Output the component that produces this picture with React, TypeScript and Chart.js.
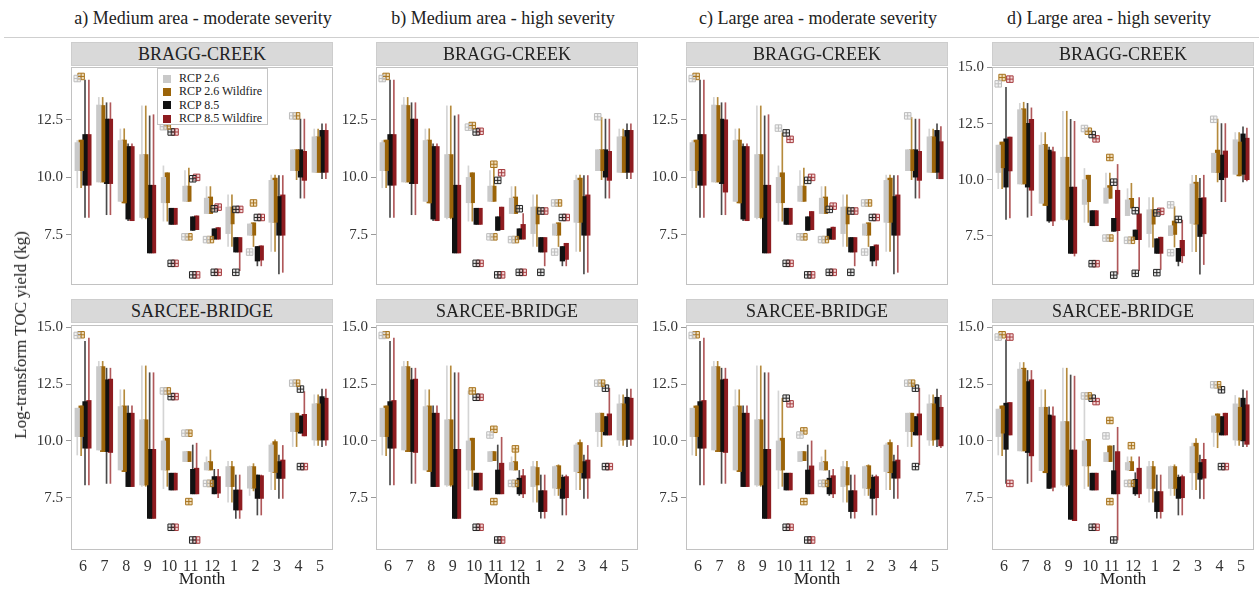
import React, { useEffect, useRef } from "react";
import { Chart, registerables } from "chart.js";

Chart.register(...registerables);

// ---- Categories, labels ----
const MONTHS = ["6", "7", "8", "9", "10", "11", "12", "1", "2", "3", "4", "5"];
const SERIES = ["RCP 2.6", "RCP 2.6 Wildfire", "RCP 8.5", "RCP 8.5 Wildfire"];
const Y_TICKS = [7.5, 10, 12.5, 15];
const COLUMN_TITLES = [
  "a) Medium area - moderate severity",
  "b) Medium area - high severity",
  "c) Large area - moderate severity",
  "d) Large area - high severity",
];
const STATIONS = ["BRAGG-CREEK", "SARCEE-BRIDGE"];

type Box = [number, number, number, number]; // lower whisker, Q1, Q3, upper whisker
type Outlier = [number, number]; // month index, value

// ---- BRAGG-CREEK boxes ----
const BRAGG_ABC_RCP26: Box[] = [
  [9.55, 10.29, 11.51, 11.6], [9.8, 9.8, 13.14, 13.47], [8.96, 8.96, 11.6, 12.1], [8.2, 8.26, 10.99, 13.1],
  [8.1, 8.9, 10.0, 10.5], [8.96, 8.96, 9.62, 10.3], [8.43, 8.43, 9.1, 9.6], [7.0, 7.56, 8.71, 9.24],
  [7.49, 7.49, 7.98, 7.98], [6.79, 8.05, 9.87, 10.1], [10.29, 10.29, 11.2, 11.2], [10.22, 10.22, 11.76, 12.1],
];
const BRAGG_A_RCP26W: Box[] = [
  [9.55, 10.29, 11.62, 11.62], [9.8, 9.8, 13.12, 13.47], [8.89, 8.89, 11.62, 12.11], [8.2, 8.26, 10.99, 13.1],
  [8.1, 8.9, 10.2, 10.2], [8.96, 8.96, 9.62, 10.4], [8.43, 8.43, 9.15, 9.6], [7.0, 7.98, 8.71, 9.24],
  [7.0, 7.49, 8.03, 8.03], [6.79, 8.05, 9.97, 10.1], [9.9, 10.29, 11.2, 11.2], [10.22, 10.22, 11.76, 12.1],
];
const BRAGG_B_RCP26W: Box[] = [
  [9.55, 10.29, 11.62, 11.62], [9.8, 9.8, 13.12, 13.47], [8.89, 8.89, 11.62, 12.11], [8.2, 8.26, 10.99, 13.1],
  [8.1, 8.9, 10.2, 10.2], [8.96, 8.96, 9.62, 10.4], [8.43, 8.43, 9.15, 9.6], [7.0, 7.98, 8.71, 9.24],
  [7.0, 7.49, 8.03, 8.03], [6.79, 8.05, 9.97, 10.1], [9.9, 10.29, 11.2, 12.6], [10.22, 10.22, 11.76, 12.1],
];
const BRAGG_C_RCP26W: Box[] = [
  [9.55, 10.29, 11.62, 11.62], [9.8, 9.8, 13.12, 13.47], [8.89, 8.89, 11.62, 12.11], [8.2, 8.26, 10.99, 13.1],
  [8.1, 8.9, 10.2, 11.93], [8.96, 8.96, 9.62, 10.4], [8.43, 8.43, 9.15, 9.6], [7.0, 7.98, 8.71, 9.24],
  [7.0, 7.49, 8.03, 8.03], [6.79, 8.05, 9.97, 10.1], [9.9, 10.29, 11.2, 12.6], [10.22, 10.22, 11.76, 12.1],
];
const BRAGG_ABC_RCP85: Box[] = [
  [8.26, 9.66, 11.86, 14.22], [8.38, 9.73, 12.53, 13.24], [8.12, 8.19, 11.34, 11.46], [6.72, 6.72, 9.66, 12.67],
  [7.96, 7.96, 8.66, 8.66], [7.7, 7.7, 8.29, 8.29], [7.32, 7.32, 7.77, 7.77], [6.76, 6.76, 7.39, 7.39],
  [6.16, 6.37, 7.0, 7.0], [5.81, 7.49, 9.17, 10.08], [9.1, 10.01, 11.2, 12.53], [9.94, 10.22, 12.04, 12.32],
];
const BRAGG_A_RCP85W: Box[] = [
  [8.26, 9.66, 11.86, 14.22], [8.38, 9.73, 12.53, 13.24], [8.12, 8.12, 11.34, 11.46], [6.72, 6.72, 9.66, 12.72],
  [7.96, 7.96, 8.66, 8.66], [7.73, 7.73, 8.33, 8.33], [7.32, 7.32, 7.82, 7.82], [5.95, 6.76, 7.39, 7.39],
  [6.16, 6.41, 7.03, 7.03], [5.88, 7.49, 9.24, 10.08], [9.1, 9.87, 11.13, 12.53], [9.94, 10.22, 12.04, 12.32],
];
const BRAGG_B_RCP85W: Box[] = [
  [8.26, 9.66, 11.86, 14.22], [8.38, 9.73, 12.53, 13.24], [8.12, 8.12, 11.34, 11.46], [6.72, 6.72, 9.66, 12.72],
  [7.96, 7.96, 8.66, 8.66], [7.73, 7.73, 8.71, 8.71], [7.32, 7.32, 7.96, 8.43], [6.16, 6.76, 7.39, 7.39],
  [6.16, 6.44, 7.14, 7.14], [5.88, 7.49, 9.24, 10.08], [9.1, 9.87, 11.13, 12.53], [9.94, 10.22, 12.04, 12.32],
];
const BRAGG_C_RCP85W: Box[] = [
  [8.26, 9.66, 11.86, 14.22], [8.38, 9.36, 12.5, 13.24], [8.12, 8.12, 11.34, 11.46], [6.72, 6.72, 9.66, 12.72],
  [7.96, 7.96, 8.66, 8.66], [7.73, 7.73, 8.52, 8.52], [7.31, 7.31, 7.84, 7.84], [6.16, 6.76, 7.39, 7.39],
  [6.16, 6.41, 7.07, 7.07], [5.88, 7.49, 9.24, 10.08], [9.1, 9.87, 11.13, 12.53], [9.94, 9.94, 11.55, 12.2],
];
const BRAGG_D_RCP26: Box[] = [
  [9.6, 10.32, 11.54, 11.54], [9.81, 9.81, 13.12, 13.4], [8.95, 8.95, 11.54, 12.1], [8.2, 8.23, 11.0, 13.05],
  [8.1, 8.9, 10.0, 10.5], [8.95, 8.95, 9.63, 10.3], [8.4, 8.4, 9.1, 9.6], [7.0, 7.6, 8.66, 9.2],
  [7.51, 7.51, 7.95, 7.95], [6.8, 8.05, 9.81, 10.2], [10.32, 10.32, 11.18, 11.18], [10.24, 10.24, 11.78, 12.1],
];
const BRAGG_D_RCP26W: Box[] = [
  [9.6, 10.53, 11.68, 11.68], [9.81, 9.81, 13.16, 13.45], [8.85, 8.85, 11.57, 12.1], [8.2, 8.23, 11.0, 13.05],
  [8.1, 9.02, 10.2, 10.2], [9.17, 9.17, 9.74, 10.3], [8.74, 8.74, 9.17, 9.84], [7.0, 8.02, 8.66, 9.2],
  [7.0, 7.56, 8.16, 8.8], [6.8, 8.02, 9.89, 10.2], [9.9, 10.32, 11.32, 12.7], [10.17, 10.17, 11.68, 12.1],
];
const BRAGG_D_RCP85: Box[] = [
  [8.23, 9.67, 11.82, 14.12], [8.33, 9.67, 12.51, 13.4], [8.1, 8.16, 11.32, 11.45], [6.72, 6.72, 9.67, 12.69],
  [7.95, 7.95, 8.62, 8.62], [7.7, 7.7, 8.28, 8.28], [7.33, 7.33, 7.76, 7.76], [6.72, 6.72, 7.37, 7.37],
  [6.16, 6.36, 6.94, 6.94], [5.79, 7.47, 9.17, 10.06], [9.02, 10.0, 11.1, 12.5], [9.9, 10.24, 12.04, 12.35],
];
const BRAGG_D_RCP85W: Box[] = [
  [8.3, 10.39, 11.9, 11.9], [8.4, 9.53, 12.69, 13.2], [7.95, 8.16, 11.25, 11.45], [6.6, 6.72, 9.67, 12.6],
  [7.95, 7.95, 8.62, 8.62], [5.79, 7.73, 9.53, 10.68], [5.95, 7.33, 8.48, 9.2], [6.0, 6.72, 7.44, 7.44],
  [6.3, 6.61, 7.3, 8.2], [6.22, 7.59, 9.2, 10.2], [9.02, 10.1, 11.28, 12.5], [9.95, 10.0, 11.85, 12.3],
];

// ---- BRAGG-CREEK outliers ----
const BRAGG_A_OUT: Outlier[][] = [
  [[0, 14.29], [4, 12.2], [5, 7.42], [6, 7.3], [8, 6.76], [10, 12.67]],
  [[0, 14.38], [4, 12.23], [5, 7.42], [6, 7.3], [8, 8.89], [10, 12.67]],
  [[4, 11.97], [4, 6.27], [5, 9.94], [5, 5.77], [6, 8.64], [6, 5.88], [7, 8.61], [7, 5.88], [8, 8.26]],
  [[4, 11.97], [4, 6.27], [5, 10.0], [5, 5.77], [6, 8.71], [6, 5.88], [7, 8.61], [8, 8.26]],
];
const BRAGG_B_OUT: Outlier[][] = [
  [[0, 14.29], [4, 12.18], [5, 7.42], [6, 7.3], [8, 6.76], [8, 8.89], [10, 12.63]],
  [[0, 14.38], [4, 12.25], [5, 10.57], [5, 7.42], [6, 7.3], [8, 8.89]],
  [[4, 11.97], [4, 6.27], [5, 9.87], [5, 5.77], [6, 8.64], [6, 5.88], [7, 8.54], [7, 5.88], [8, 8.26]],
  [[4, 12.0], [4, 6.27], [5, 10.2], [5, 5.77], [6, 5.88], [7, 8.54], [8, 8.26]],
];
const BRAGG_C_OUT: Outlier[][] = [
  [[0, 14.29], [4, 12.14], [5, 7.42], [6, 7.3], [8, 6.76], [8, 8.89], [10, 12.67]],
  [[0, 14.38], [5, 7.42], [6, 7.3], [8, 8.89]],
  [[4, 11.93], [4, 6.27], [5, 9.87], [5, 5.77], [6, 8.61], [6, 5.88], [7, 8.54], [7, 5.88], [8, 8.26]],
  [[4, 11.65], [4, 6.27], [5, 10.0], [5, 5.77], [6, 8.75], [6, 5.88], [7, 8.54], [8, 8.26]],
];
const BRAGG_D_OUT: Outlier[][] = [
  [[0, 14.27], [4, 12.28], [5, 7.4], [6, 7.3], [8, 8.88], [8, 6.75], [10, 12.69]],
  [[0, 14.55], [4, 12.16], [5, 10.99], [5, 7.4], [6, 7.3]],
  [[4, 12.01], [4, 6.26], [5, 9.89], [5, 5.75], [6, 8.62], [6, 5.83], [7, 8.52], [7, 5.86], [8, 8.23]],
  [[0, 14.48], [4, 11.82], [4, 6.26], [7, 8.59]],
];

// ---- SARCEE-BRIDGE boxes ----
const SARCEE_ABC_RCP26: Box[] = [
  [9.38, 10.19, 11.44, 11.44], [9.6, 9.6, 13.27, 13.5], [8.72, 8.72, 11.51, 12.25], [8.0, 8.06, 10.93, 13.3],
  [7.9, 8.72, 10.0, 12.2], [9.09, 9.09, 9.53, 9.53], [8.72, 8.72, 9.05, 9.3], [7.3, 7.99, 8.87, 9.1],
  [7.6, 7.92, 8.87, 8.9], [7.85, 8.65, 9.82, 9.9], [9.75, 10.41, 11.22, 11.22], [9.8, 10.04, 11.63, 12.03],
];
const SARCEE_A_RCP26W: Box[] = [
  [9.35, 10.19, 11.54, 11.54], [9.53, 9.53, 13.27, 13.5], [8.65, 8.65, 11.54, 12.25], [8.0, 8.06, 10.93, 13.3],
  [8.0, 8.72, 10.12, 10.12], [9.09, 9.09, 9.53, 9.53], [8.72, 8.72, 9.09, 9.6], [7.3, 7.99, 8.87, 9.1],
  [7.8, 7.92, 8.87, 9.0], [7.85, 8.61, 9.97, 10.05], [9.75, 10.41, 11.22, 11.22], [9.8, 10.04, 11.63, 12.03],
];
const SARCEE_B_RCP26W: Box[] = [
  [9.35, 10.19, 11.54, 11.54], [9.53, 9.53, 13.27, 13.5], [8.65, 8.65, 11.54, 12.25], [8.0, 8.06, 10.93, 13.3],
  [8.0, 8.72, 10.12, 10.12], [9.13, 9.13, 9.53, 9.53], [8.72, 8.72, 9.09, 9.6], [7.3, 8.06, 8.83, 9.1],
  [7.6, 7.91, 8.91, 8.95], [7.85, 8.6, 9.93, 10.05], [9.75, 10.41, 11.22, 11.22], [9.8, 10.04, 11.63, 12.03],
];
const SARCEE_C_RCP26W: Box[] = [
  [9.35, 10.19, 11.54, 11.54], [9.53, 9.53, 13.27, 13.5], [8.65, 8.65, 11.54, 12.25], [8.0, 8.06, 10.93, 13.3],
  [8.0, 8.72, 10.12, 11.88], [9.13, 9.13, 9.53, 9.53], [8.72, 8.72, 9.09, 9.6], [7.3, 8.06, 8.83, 9.1],
  [7.6, 7.91, 8.91, 8.95], [7.85, 8.6, 9.93, 10.05], [9.75, 10.41, 11.22, 11.22], [9.8, 10.04, 11.63, 12.03],
];
const SARCEE_A_RCP85: Box[] = [
  [8.06, 9.68, 11.73, 14.38], [8.13, 9.53, 12.69, 13.2], [7.99, 7.99, 11.22, 11.54], [6.59, 6.59, 9.63, 13.0],
  [7.84, 7.84, 8.58, 8.58], [7.67, 7.67, 8.75, 9.82], [7.67, 7.67, 8.43, 8.75], [6.59, 6.96, 7.84, 8.5],
  [6.74, 7.47, 8.5, 8.5], [7.47, 8.35, 9.09, 9.38], [10.34, 10.34, 11.1, 11.1], [9.75, 10.04, 11.95, 12.28],
];
const SARCEE_BC_RCP85: Box[] = [
  [8.06, 9.68, 11.73, 14.38], [8.13, 9.53, 12.69, 13.2], [7.99, 7.99, 11.22, 11.54], [6.59, 6.59, 9.63, 13.0],
  [7.84, 7.84, 8.58, 8.58], [7.67, 7.67, 8.72, 9.82], [7.6, 7.67, 8.36, 8.7], [6.6, 6.89, 7.81, 8.5],
  [6.74, 7.47, 8.4, 8.5], [7.47, 8.36, 9.09, 9.38], [10.26, 10.26, 11.07, 11.07], [9.75, 10.07, 11.92, 12.28],
];
const SARCEE_A_RCP85W: Box[] = [
  [8.06, 9.68, 11.78, 14.52], [8.13, 9.49, 12.72, 13.2], [7.99, 7.99, 11.22, 11.54], [6.59, 6.59, 9.63, 13.0],
  [7.84, 7.84, 8.58, 8.58], [7.67, 7.67, 8.8, 9.9], [7.5, 7.7, 8.43, 8.75], [6.59, 6.96, 7.84, 8.5],
  [6.74, 7.47, 8.47, 8.5], [7.47, 8.35, 9.16, 9.8], [10.22, 10.22, 11.17, 12.17], [9.8, 10.04, 11.88, 12.28],
];
const SARCEE_B_RCP85W: Box[] = [
  [8.06, 9.68, 11.78, 14.52], [8.13, 9.49, 12.72, 13.2], [7.99, 7.99, 11.22, 11.54], [6.59, 6.59, 9.63, 13.0],
  [7.84, 7.84, 8.58, 8.58], [7.67, 7.67, 9.02, 10.16], [7.5, 7.67, 8.47, 8.75], [6.6, 6.89, 7.81, 8.5],
  [6.74, 7.5, 8.43, 8.5], [7.47, 8.36, 9.16, 9.8], [10.26, 10.26, 11.19, 12.32], [9.8, 10.07, 11.88, 12.28],
];
const SARCEE_C_RCP85W: Box[] = [
  [8.06, 9.68, 11.78, 14.52], [8.13, 9.49, 12.72, 13.2], [7.99, 7.99, 11.22, 11.54], [6.59, 6.59, 9.63, 13.0],
  [7.84, 7.84, 8.58, 8.58], [7.67, 7.67, 8.9, 10.0], [7.5, 7.67, 8.47, 8.75], [6.6, 6.89, 7.81, 8.5],
  [6.74, 7.5, 8.43, 8.5], [7.47, 8.36, 9.16, 9.8], [8.95, 10.26, 11.19, 12.32], [9.7, 9.78, 11.48, 12.0],
];
const SARCEE_D_RCP26: Box[] = [
  [9.38, 10.19, 11.4, 11.4], [9.56, 9.56, 13.16, 13.45], [8.69, 8.69, 11.48, 12.25], [8.0, 8.06, 10.85, 13.2],
  [7.9, 8.9, 10.0, 11.98], [9.09, 9.09, 9.49, 9.49], [8.7, 8.72, 9.05, 9.3], [7.3, 7.91, 8.87, 9.1],
  [7.6, 7.91, 8.87, 8.9], [7.85, 8.6, 9.75, 9.9], [9.75, 10.38, 11.1, 11.1], [9.8, 10.04, 11.63, 12.0],
];
const SARCEE_D_RCP26W: Box[] = [
  [9.35, 10.34, 11.54, 11.54], [9.56, 9.56, 13.2, 13.45], [8.6, 8.6, 11.48, 12.25], [8.0, 8.06, 10.85, 13.2],
  [8.0, 8.9, 10.07, 10.07], [9.09, 9.09, 9.78, 9.78], [8.69, 8.69, 9.09, 9.3], [7.3, 7.91, 8.87, 9.1],
  [7.6, 7.91, 8.87, 8.95], [7.85, 8.6, 9.9, 10.1], [9.7, 10.38, 11.19, 11.19], [9.8, 10.04, 11.48, 11.9],
];
const SARCEE_D_RCP85: Box[] = [
  [8.13, 9.63, 11.66, 14.45], [8.13, 9.49, 12.61, 13.1], [7.91, 7.91, 11.14, 11.5], [6.55, 6.55, 9.6, 12.9],
  [7.84, 7.84, 8.58, 8.58], [7.67, 7.67, 8.69, 9.8], [7.6, 7.67, 8.31, 8.6], [6.6, 6.89, 7.77, 8.5],
  [6.74, 7.47, 8.4, 8.5], [7.47, 8.31, 9.05, 9.38], [10.26, 10.26, 11.07, 11.07], [9.75, 10.0, 11.88, 12.25],
];
const SARCEE_D_RCP85W: Box[] = [
  [10.26, 10.26, 11.69, 11.69], [8.2, 9.34, 12.69, 13.1], [7.8, 7.96, 11.1, 11.5], [6.49, 6.49, 9.6, 12.85],
  [7.84, 7.84, 8.58, 8.58], [5.64, 7.67, 9.53, 10.6], [7.5, 7.67, 8.8, 9.3], [6.6, 6.89, 7.77, 8.5],
  [6.74, 7.5, 8.43, 8.5], [7.45, 8.36, 9.19, 9.9], [10.26, 10.26, 11.22, 11.22], [9.75, 9.85, 11.59, 12.2],
];

// ---- SARCEE-BRIDGE outliers ----
const SARCEE_A_OUT: Outlier[][] = [
  [[0, 14.64], [4, 12.2], [5, 10.34], [6, 8.13], [10, 12.54]],
  [[0, 14.67], [4, 12.2], [5, 10.34], [5, 7.33], [6, 8.13], [10, 12.54]],
  [[4, 11.95], [4, 6.2], [5, 5.64], [10, 12.28], [10, 8.87]],
  [[4, 11.95], [4, 6.2], [5, 5.64], [10, 8.87]],
];
const SARCEE_B_OUT: Outlier[][] = [
  [[0, 14.64], [5, 10.26], [6, 8.13], [10, 12.54]],
  [[0, 14.67], [4, 12.2], [5, 10.51], [5, 7.33], [6, 9.65], [6, 8.13], [10, 12.54]],
  [[4, 11.92], [4, 6.2], [5, 5.64], [10, 12.32], [10, 8.87]],
  [[4, 11.92], [4, 6.2], [5, 5.64], [10, 8.87]],
];
const SARCEE_C_OUT: Outlier[][] = [
  [[0, 14.64], [5, 10.26], [6, 8.13], [10, 12.54]],
  [[0, 14.67], [5, 10.44], [5, 7.33], [6, 8.13], [10, 12.54]],
  [[4, 11.88], [4, 6.2], [5, 5.64], [10, 12.32], [10, 8.87]],
  [[4, 11.63], [4, 6.2], [5, 5.64]],
];
const SARCEE_D_OUT: Outlier[][] = [
  [[0, 14.57], [4, 11.98], [5, 10.22], [6, 8.13], [10, 12.47]],
  [[0, 14.67], [4, 11.98], [5, 10.9], [5, 7.33], [6, 9.79], [6, 8.13], [10, 12.47]],
  [[4, 11.88], [4, 6.2], [5, 5.64], [10, 12.25], [10, 8.87]],
  [[0, 14.57], [0, 8.13], [4, 11.73], [4, 6.2], [10, 8.87]],
];

// ---- Axis ranges per row ----
const TOP_RANGE: [number, number] = [5.33, 14.79];
const TOP_RANGE_D: [number, number] = [5.31, 15.02];
const BOTTOM_RANGE: [number, number] = [5.2, 15.1];

type PanelData = { boxes: Box[][]; outliers: Outlier[][]; range: [number, number] };

const PANELS: PanelData[][] = [
  [
    { boxes: [BRAGG_ABC_RCP26, BRAGG_A_RCP26W, BRAGG_ABC_RCP85, BRAGG_A_RCP85W], outliers: BRAGG_A_OUT, range: TOP_RANGE },
    { boxes: [BRAGG_ABC_RCP26, BRAGG_B_RCP26W, BRAGG_ABC_RCP85, BRAGG_B_RCP85W], outliers: BRAGG_B_OUT, range: TOP_RANGE },
    { boxes: [BRAGG_ABC_RCP26, BRAGG_C_RCP26W, BRAGG_ABC_RCP85, BRAGG_C_RCP85W], outliers: BRAGG_C_OUT, range: TOP_RANGE },
    { boxes: [BRAGG_D_RCP26, BRAGG_D_RCP26W, BRAGG_D_RCP85, BRAGG_D_RCP85W], outliers: BRAGG_D_OUT, range: TOP_RANGE_D },
  ],
  [
    { boxes: [SARCEE_ABC_RCP26, SARCEE_A_RCP26W, SARCEE_A_RCP85, SARCEE_A_RCP85W], outliers: SARCEE_A_OUT, range: BOTTOM_RANGE },
    { boxes: [SARCEE_ABC_RCP26, SARCEE_B_RCP26W, SARCEE_BC_RCP85, SARCEE_B_RCP85W], outliers: SARCEE_B_OUT, range: BOTTOM_RANGE },
    { boxes: [SARCEE_ABC_RCP26, SARCEE_C_RCP26W, SARCEE_BC_RCP85, SARCEE_C_RCP85W], outliers: SARCEE_C_OUT, range: BOTTOM_RANGE },
    { boxes: [SARCEE_D_RCP26, SARCEE_D_RCP26W, SARCEE_D_RCP85, SARCEE_D_RCP85W], outliers: SARCEE_D_OUT, range: BOTTOM_RANGE },
  ],
];

// ---- Styling & layout ----
const FONT = "'Liberation Serif', 'Times New Roman', serif";
const BOX_COLORS = ["#c9c9c9", "#9b6409", "#111111", "#8e1c20"];
const WHISKER_COLORS = ["#d4d4d4", "#b58a3c", "#4a4a4a", "#b0585a"];
const OUTLIER_STROKE = ["#bdbdbd", "#a8741f", "#262626", "#a53b3e"];
const OUTLIER_FILL = ["rgba(235,235,235,0.6)", "rgba(228,198,140,0.6)", "rgba(210,210,210,0.5)", "rgba(236,192,192,0.6)"];
const OFFSETS = [-0.27, -0.09, 0.09, 0.27];

const PLOT_LEFTS = [71, 376, 686, 992];
const PLOT_W = 262;
const ROW_PLOT_TOP = [67, 325];
const ROW_PLOT_H = [226, 225];
const ROW_HEADER_TOP = [42, 299];
const HEADER_H = 24;
const TITLE_CENTERS = [203, 503, 818, 1109];
const Y_AXIS_W = 50;
const PAD_TOP = 12;
const PAD_RIGHT = 8;
const X_AXIS_H = 42;

const framePlugin = {
  id: "panelFrame",
  afterDraw(chart: any) {
    const { ctx, chartArea } = chart;
    const l = Math.round(chartArea.left);
    const t = Math.round(chartArea.top);
    const r = Math.round(chartArea.right);
    const b = Math.round(chartArea.bottom);
    ctx.save();
    ctx.strokeStyle = "#c2c2c2";
    ctx.lineWidth = 1;
    ctx.strokeRect(l + 0.5, t + 0.5, r - l - 1, b - t - 1);
    ctx.restore();
  },
};

function Panel({ data, row, col }: { data: PanelData; row: number; col: number }) {
  const ref = useRef<HTMLCanvasElement | null>(null);
  const showX = row === 1;
  const plotTop = ROW_PLOT_TOP[row];
  const plotH = ROW_PLOT_H[row];
  const width = Y_AXIS_W + PLOT_W + PAD_RIGHT;
  const height = PAD_TOP + plotH + (showX ? X_AXIS_H : 4);

  useEffect(() => {
    if (!ref.current) return;
    const [yMin, yMax] = data.range;
    const datasets: any[] = [];
    data.boxes.forEach((boxes, s) => {
      datasets.push({
        type: "bar",
        label: SERIES[s] + " range",
        data: boxes.map((b, i) => ({ x: i + OFFSETS[s], y: [b[0], b[3]] })),
        backgroundColor: WHISKER_COLORS[s],
        borderWidth: 0,
        barThickness: 1,
        grouped: false,
        order: 4,
      });
    });
    data.boxes.forEach((boxes, s) => {
      datasets.push({
        type: "bar",
        label: SERIES[s],
        data: boxes.map((b, i) => ({ x: i + OFFSETS[s], y: [b[1], b[2]] })),
        backgroundColor: BOX_COLORS[s],
        borderWidth: 0,
        barThickness: 4.6,
        grouped: false,
        order: 3,
      });
    });
    data.outliers.forEach((pts, s) => {
      const pointData = pts.map(([i, v]) => ({ x: i + OFFSETS[s], y: v }));
      datasets.push({
        type: "line",
        label: SERIES[s] + " outliers",
        data: pointData,
        showLine: false,
        pointStyle: "rect",
        pointRadius: 4.6,
        pointBorderWidth: 1,
        pointBorderColor: OUTLIER_STROKE[s],
        pointBackgroundColor: OUTLIER_FILL[s],
        order: 2,
      });
      datasets.push({
        type: "line",
        label: SERIES[s] + " outlier marks",
        data: pointData,
        showLine: false,
        pointStyle: "cross",
        pointRadius: 3.2,
        pointBorderWidth: 1,
        pointBorderColor: OUTLIER_STROKE[s],
        order: 1,
      });
    });

    const chart = new Chart(ref.current, {
      type: "bar",
      data: { datasets },
      plugins: [framePlugin],
      options: {
        responsive: false,
        animation: false,
        events: [],
        layout: { padding: { top: PAD_TOP, right: PAD_RIGHT, left: 0, bottom: showX ? 0 : 4 } },
        plugins: { legend: { display: false }, tooltip: { enabled: false } },
        scales: {
          x: {
            type: "linear",
            min: -0.56,
            max: 11.6,
            offset: false,
            grid: { display: false, drawTicks: false },
            border: { display: false },
            afterBuildTicks: (axis: any) => {
              axis.ticks = MONTHS.map((_, i) => ({ value: i }));
            },
            afterFit: (axis: any) => {
              axis.height = showX ? X_AXIS_H : 0;
            },
            ticks: {
              display: showX,
              autoSkip: false,
              maxRotation: 0,
              padding: 7,
              color: "#333",
              font: { family: FONT, size: 16 },
              callback: (v: any) => MONTHS[Math.round(Number(v))] ?? "",
            },
            title: {
              display: showX,
              text: "Month",
              color: "#222",
              font: { family: FONT, size: 17.5 },
              padding: { top: 0, bottom: 2 },
            },
          },
          y: {
            type: "linear",
            min: yMin,
            max: yMax,
            afterBuildTicks: (axis: any) => {
              axis.ticks = Y_TICKS.filter((v) => v >= yMin && v <= yMax).map((v) => ({ value: v }));
            },
            afterFit: (axis: any) => {
              axis.width = Y_AXIS_W;
            },
            grid: { display: true, drawOnChartArea: false, drawTicks: true, tickLength: 5, color: "#9a9a9a" },
            border: { display: false },
            ticks: {
              padding: 3,
              color: "#333",
              font: { family: FONT, size: 15 },
              callback: (v: any) => Number(v).toFixed(1),
            },
          },
        },
      } as any,
    });
    return () => chart.destroy();
  }, [data, showX]);

  return (
    <canvas
      ref={ref}
      width={width}
      height={height}
      style={{
        position: "absolute",
        left: PLOT_LEFTS[col] - Y_AXIS_W,
        top: plotTop - PAD_TOP,
        width,
        height,
      }}
    />
  );
}

function Legend() {
  return (
    <div
      style={{
        position: "absolute",
        left: 157,
        top: 68,
        width: 111,
        height: 57,
        boxSizing: "border-box",
        border: "1px solid #c4c4c4",
        background: "#fff",
        padding: "3px 0 0 5px",
        fontFamily: FONT,
        fontSize: 12,
        color: "#222",
        zIndex: 3,
      }}
    >
      {SERIES.map((name, s) => (
        <div key={name} style={{ display: "flex", alignItems: "center", height: 13.3, whiteSpace: "nowrap" }}>
          <span
            style={{
              display: "inline-block",
              width: 8,
              height: 8,
              background: BOX_COLORS[s],
              marginRight: 8,
            }}
          />
          {name}
        </div>
      ))}
    </div>
  );
}

export default function App() {
  return (
    <div
      style={{
        position: "absolute",
        left: 0,
        top: 0,
        width: 1259,
        height: 592,
        background: "#fff",
        fontFamily: FONT,
        overflow: "hidden",
      }}
    >
      {PANELS.map((rowPanels, row) =>
        rowPanels.map((p, col) => <Panel key={`${row}-${col}`} data={p} row={row} col={col} />)
      )}
      {COLUMN_TITLES.map((t, i) => (
        <div
          key={t}
          style={{
            position: "absolute",
            left: TITLE_CENTERS[i],
            top: 18,
            transform: "translate(-50%, -50%)",
            whiteSpace: "nowrap",
            fontSize: 18,
            color: "#222",
          }}
        >
          {t}
        </div>
      ))}
      <div style={{ position: "absolute", left: 4, top: 37, width: 1255, height: 1, background: "#cfcfcf" }} />
      {STATIONS.map((st, row) =>
        PLOT_LEFTS.map((left, col) => (
          <div
            key={`${st}-${col}`}
            style={{
              position: "absolute",
              left,
              top: ROW_HEADER_TOP[row],
              width: PLOT_W,
              height: HEADER_H,
              boxSizing: "border-box",
              background: "#d9d9d9",
              border: "1px solid #cdcdcd",
              textAlign: "center",
              lineHeight: `${HEADER_H - 2}px`,
              fontSize: 18,
              color: "#222",
              zIndex: 2,
            }}
          >
            {st}
          </div>
        ))
      )}
      <div
        style={{
          position: "absolute",
          left: 21,
          top: 335,
          transform: "translate(-50%, -50%) rotate(-90deg)",
          whiteSpace: "nowrap",
          fontSize: 17,
          color: "#222",
        }}
      >
        Log-transform TOC yield (kg)
      </div>
      <Legend />
    </div>
  );
}
